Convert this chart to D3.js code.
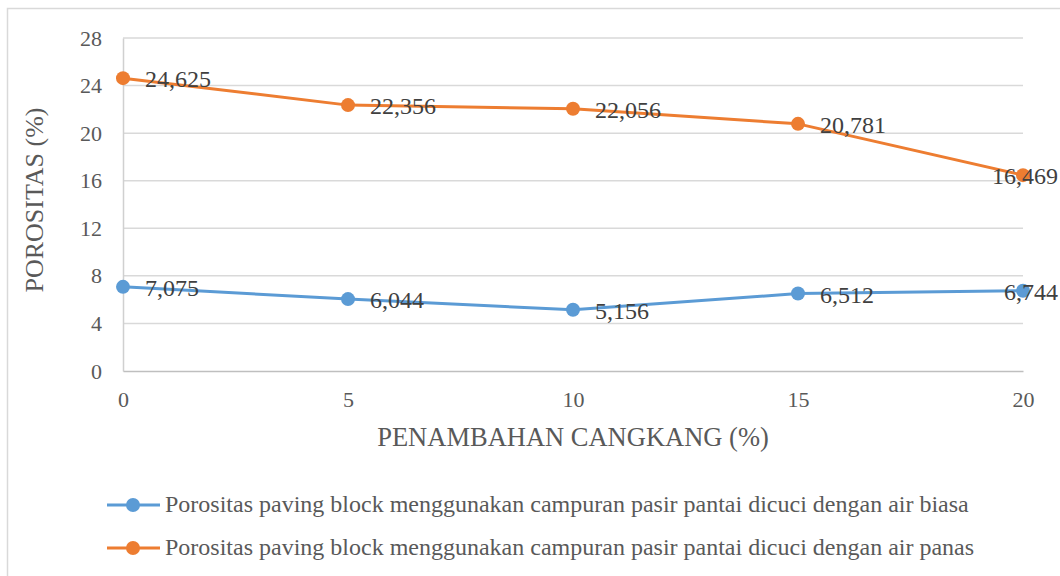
<!DOCTYPE html>
<html>
<head>
<meta charset="utf-8">
<script src="https://cdn.jsdelivr.net/npm/d3@7"></script>
<style>
  body { margin: 0; background: #ffffff; }
  svg { display: block; }
</style>
</head>
<body>
<div id="chart"></div>
<script>
const categories = [0, 5, 10, 15, 20];
const yTicks = [0, 4, 8, 12, 16, 20, 24, 28];
const airBiasa = [7.075, 6.044, 5.156, 6.512, 6.744];
const airPanas = [24.625, 22.356, 22.056, 20.781, 16.469];
const seriesNames = [
    "Porositas paving block menggunakan campuran pasir pantai dicuci dengan air biasa",
    "Porositas paving block menggunakan campuran pasir pantai dicuci dengan air panas"
];
const seriesColors = ["#5B9BD5", "#ED7D31"];

function main() {
    const svgWidth = 1060;
    const svgHeight = 576;
    const margin = {top: 38, right: 37, bottom: 205, left: 123};
    const width = svgWidth - margin.left - margin.right;
    const height = svgHeight - margin.top - margin.bottom;
    const font = "'Liberation Serif', 'Times New Roman', serif";

    const svg = d3.select('#chart').append('svg')
        .attr('width', svgWidth)
        .attr('height', svgHeight);

    // outer chart border
    svg.append('rect')
        .attr('x', 7.5)
        .attr('y', 8.5)
        .attr('width', svgWidth + 10)
        .attr('height', svgHeight + 10)
        .attr('fill', 'none')
        .attr('stroke', '#d9d9d9')
        .attr('stroke-width', 1.5);

    const g = svg.append('g')
        .attr('transform', `translate(${margin.left},${margin.top})`);

    const xScale = d3.scaleLinear().domain([0, 20]).range([0, width]);
    const yScale = d3.scaleLinear().domain([0, 28]).range([height, 0]);

    // gridlines
    g.append('g')
        .selectAll('line')
        .data(yTicks.filter(d => d > 0))
        .enter()
        .append('line')
        .attr('x1', 0)
        .attr('x2', width)
        .attr('y1', d => yScale(d))
        .attr('y2', d => yScale(d))
        .attr('stroke', '#d9d9d9')
        .attr('stroke-width', 1.5);

    const yAxis = g.append('g')
        .call(d3.axisLeft(yScale).tickValues(yTicks).tickSize(0).tickPadding(21));
    yAxis.select('.domain').attr('stroke', '#d0d0d0').attr('stroke-width', 1.5);
    yAxis.selectAll('text')
        .style('font-family', font)
        .style('font-size', '22px')
        .attr('fill', '#595959');

    const xAxis = g.append('g')
        .attr('transform', `translate(0,${height})`)
        .call(d3.axisBottom(xScale).tickValues(categories).tickSize(0).tickPadding(20));
    xAxis.select('.domain').attr('stroke', '#bfbfbf').attr('stroke-width', 1.5);
    xAxis.selectAll('text')
        .style('font-family', font)
        .style('font-size', '22px')
        .attr('fill', '#595959');

    svg.append('text')
        .attr('x', margin.left + width / 2)
        .attr('y', 446)
        .attr('text-anchor', 'middle')
        .attr('fill', '#595959')
        .style('font-family', font)
        .style('font-size', '26.5px')
        .text('PENAMBAHAN CANGKANG (%)');

    svg.append('text')
        .attr('transform', 'rotate(-90)')
        .attr('x', -200)
        .attr('y', 43)
        .attr('text-anchor', 'middle')
        .attr('fill', '#595959')
        .style('font-family', font)
        .style('font-size', '26px')
        .text('POROSITAS (%)');

    const lineGen = d3.line()
        .x((d, i) => xScale(categories[i]))
        .y(d => yScale(d));

    const allSeries = [airBiasa, airPanas];
    allSeries.forEach((values, s) => {
        g.append('path')
            .datum(values)
            .attr('fill', 'none')
            .attr('stroke', seriesColors[s])
            .attr('stroke-width', 3)
            .attr('stroke-linejoin', 'round')
            .attr('d', lineGen);

        g.selectAll('.pt' + s)
            .data(values)
            .enter()
            .append('circle')
            .attr('class', 'pt' + s)
            .attr('cx', (d, i) => xScale(categories[i]))
            .attr('cy', d => yScale(d))
            .attr('r', 7)
            .attr('fill', seriesColors[s]);
    });

    // data labels
    const fmt = d => d3.format('.3f')(d).replace('.', ',');
    allSeries.forEach((values, s) => {
        g.selectAll('.lbl' + s)
            .data(values)
            .enter()
            .append('text')
            .attr('class', 'lbl' + s)
            .attr('x', (d, i) => xScale(categories[i]) + 22)
            .attr('y', d => yScale(d) + 9)
            .attr('fill', '#404040')
            .style('font-family', font)
            .style('font-size', '24px')
            .text(d => fmt(d))
            .each(function () {
                const w = this.getComputedTextLength();
                const x = +d3.select(this).attr('x');
                const maxX = svgWidth - margin.left - 2;
                if (x + w > maxX) d3.select(this).attr('x', maxX - w);
            });
    });

    // legend
    const legend = svg.append('g');
    seriesNames.forEach((name, i) => {
        const y = 505 + i * 43;
        legend.append('line')
            .attr('x1', 107)
            .attr('x2', 160)
            .attr('y1', y)
            .attr('y2', y)
            .attr('stroke', seriesColors[i])
            .attr('stroke-width', 3);
        legend.append('circle')
            .attr('cx', 133)
            .attr('cy', y)
            .attr('r', 7)
            .attr('fill', seriesColors[i]);
        legend.append('text')
            .attr('x', 165)
            .attr('y', y + 7)
            .attr('fill', '#595959')
            .style('font-family', font)
            .style('font-size', '24px')
            .text(name);
    });
}

main();
</script>
</body>
</html>
